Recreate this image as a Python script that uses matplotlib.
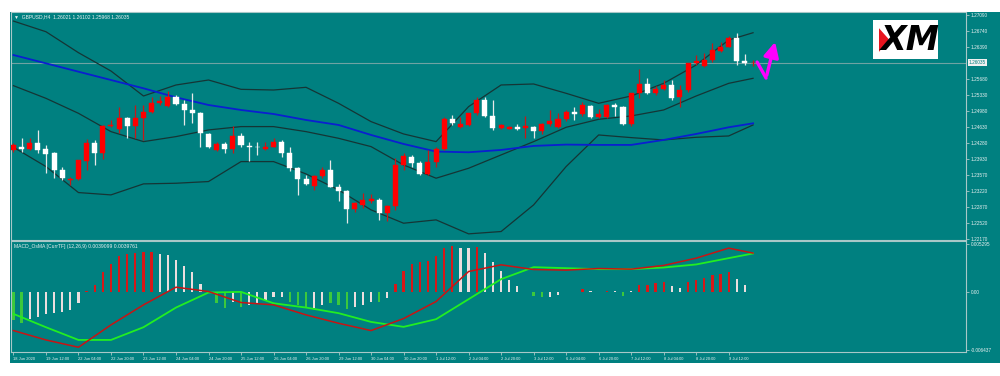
import matplotlib
matplotlib.use('Agg')
import matplotlib.pyplot as plt
import numpy as np
from matplotlib.patches import Rectangle, Polygon

plt.rcParams['font.family'] = ['Liberation Sans', 'DejaVu Sans']

# GBPUSD H4 candles
opens = [1.2413, 1.2419, 1.2414, 1.2427, 1.2414, 1.2405, 1.2369, 1.2346, 1.2349, 1.2389,
         1.2427, 1.2405, 1.2464, 1.2459, 1.2482, 1.2465, 1.2482, 1.2496, 1.2515, 1.2509,
         1.2528, 1.2513, 1.2500, 1.2494, 1.2448, 1.2413, 1.2426, 1.2414, 1.2443, 1.2421,
         1.2420, 1.2414, 1.2420, 1.2431, 1.2407, 1.2372, 1.2349, 1.2334, 1.2356, 1.2369,
         1.2332, 1.2323, 1.2284, 1.2292, 1.2301, 1.2303, 1.2274, 1.2289, 1.2380, 1.2397,
         1.2385, 1.2360, 1.2387, 1.2414, 1.2480, 1.2462, 1.2467, 1.2493, 1.2522, 1.2487,
         1.2460, 1.2459, 1.2463, 1.2460, 1.2462, 1.2455, 1.2469, 1.2462, 1.2480, 1.2496,
         1.2491, 1.2509, 1.2484, 1.2484, 1.2511, 1.2506, 1.2469, 1.2537, 1.2558, 1.2537,
         1.2547, 1.2555, 1.2528, 1.2544, 1.2602, 1.2596, 1.2609, 1.2630, 1.2639, 1.2658,
         1.2608, 1.26021]
highs = [1.2427, 1.2438, 1.2438, 1.2456, 1.2424, 1.2409, 1.2376, 1.2354, 1.2391, 1.2436,
         1.2435, 1.2467, 1.2478, 1.2507, 1.2485, 1.2511, 1.2511, 1.2528, 1.2531, 1.2542,
         1.2533, 1.2523, 1.2537, 1.2496, 1.2449, 1.2429, 1.2429, 1.2464, 1.2450, 1.2431,
         1.2431, 1.2429, 1.2438, 1.2435, 1.2420, 1.2376, 1.2358, 1.2358, 1.2375, 1.2391,
         1.2338, 1.2325, 1.2299, 1.2318, 1.2316, 1.2307, 1.2292, 1.2394, 1.2405, 1.2402,
         1.2389, 1.2413, 1.2420, 1.2484, 1.2489, 1.2484, 1.2493, 1.2528, 1.2528, 1.2521,
         1.2469, 1.2465, 1.2469, 1.2486, 1.2465, 1.2471, 1.2500, 1.2493, 1.2499, 1.2507,
         1.2518, 1.2511, 1.2502, 1.2513, 1.2515, 1.2509, 1.2538, 1.2589, 1.2571, 1.2552,
         1.2566, 1.2566, 1.2555, 1.2604, 1.2620, 1.2625, 1.2647, 1.2649, 1.2662, 1.2668,
         1.2622, 1.26102]
lows = [1.2409, 1.2409, 1.2413, 1.2407, 1.2362, 1.2351, 1.2347, 1.2336, 1.2347, 1.2369,
        1.2380, 1.2392, 1.2462, 1.2449, 1.2438, 1.2438, 1.2435, 1.2493, 1.2511, 1.2507,
        1.2511, 1.2467, 1.2471, 1.2418, 1.2416, 1.2411, 1.2405, 1.2407, 1.2419, 1.2389,
        1.2402, 1.2413, 1.2418, 1.2398, 1.2367, 1.2314, 1.2336, 1.2325, 1.2351, 1.2331,
        1.2300, 1.2252, 1.2276, 1.2285, 1.2297, 1.2259, 1.2258, 1.2281, 1.2369, 1.2376,
        1.2358, 1.2358, 1.2376, 1.2413, 1.2467, 1.2460, 1.2465, 1.2489, 1.2485, 1.2456,
        1.2459, 1.2458, 1.2456, 1.2438, 1.2438, 1.2448, 1.2464, 1.2460, 1.2477, 1.2478,
        1.2487, 1.2482, 1.2482, 1.2482, 1.2487, 1.2467, 1.2464, 1.2526, 1.2535, 1.2533,
        1.2544, 1.2523, 1.2507, 1.2540, 1.2599, 1.2595, 1.2606, 1.2628, 1.2637, 1.2599,
        1.2599, 1.25968]
closes = [1.2424, 1.2414, 1.2427, 1.2413, 1.2404, 1.2369, 1.2351, 1.2349, 1.2391, 1.2427,
          1.2405, 1.2464, 1.2467, 1.2482, 1.2465, 1.2483, 1.2496, 1.2515, 1.2520, 1.2528,
          1.2513, 1.2499, 1.2494, 1.2449, 1.2418, 1.2426, 1.2414, 1.2443, 1.2424, 1.2420,
          1.2419, 1.2420, 1.2431, 1.2407, 1.2372, 1.2349, 1.2338, 1.2356, 1.2369, 1.2332,
          1.2322, 1.2284, 1.2297, 1.2302, 1.2305, 1.2274, 1.2290, 1.2380, 1.2399, 1.2385,
          1.2360, 1.2387, 1.2414, 1.2480, 1.2472, 1.2470, 1.2493, 1.2522, 1.2487, 1.2460,
          1.2467, 1.2463, 1.2459, 1.2464, 1.2455, 1.2469, 1.2477, 1.2480, 1.2496, 1.2491,
          1.2511, 1.2484, 1.2491, 1.2512, 1.2506, 1.2469, 1.2537, 1.2558, 1.2537, 1.2547,
          1.2555, 1.2526, 1.2544, 1.2602, 1.2607, 1.2609, 1.2631, 1.2639, 1.2658, 1.2608,
          1.2602, 1.26035]

# indicator lines, sampled every 4 bars
line_bars = [0, 4, 8, 12, 16, 20, 24, 28, 32, 36, 40, 44, 48, 52, 56, 60, 64, 68, 72, 76, 80, 84, 88, 91]
bb_upper = [1.26947, 1.26714, 1.26255, 1.25854, 1.25307, 1.25548, 1.25657, 1.25453, 1.25438, 1.25497,
            1.25147, 1.24746, 1.24476, 1.24308, 1.25074, 1.25548, 1.25570, 1.25366, 1.25147, 1.25307,
            1.25584, 1.25985, 1.26532, 1.26692]
bb_mid = [1.25533, 1.25256, 1.24928, 1.24527, 1.24308, 1.24418, 1.24564, 1.24637, 1.24637, 1.24527,
          1.24381, 1.24199, 1.23798, 1.23507, 1.23725, 1.24017, 1.24308, 1.24622, 1.24797, 1.24870,
          1.25001, 1.25307, 1.25584, 1.25694]
bb_lower = [1.24185, 1.23762, 1.23193, 1.23142, 1.23383, 1.23397, 1.23434, 1.23871, 1.23871, 1.23601,
            1.23251, 1.22814, 1.22522, 1.22595, 1.22289, 1.22340, 1.22923, 1.23762, 1.24454, 1.24396,
            1.24345, 1.24403, 1.24432, 1.24673]
ma_blue = [1.26204, 1.26022, 1.25839, 1.25657, 1.25475, 1.25278, 1.25110, 1.25001, 1.24913, 1.24782,
           1.24673, 1.24454, 1.24257, 1.24090, 1.24075, 1.24126, 1.24214, 1.24243, 1.24236, 1.24236,
           1.24345, 1.24476, 1.24622, 1.24709]

# MACD_OsMA panel
hist = [-0.00315, -0.00344, -0.00307, -0.00278, -0.00248, -0.00241, -0.00222, -0.00204, -0.00122, 0.00007,
        0.00074, 0.00211, 0.00307, 0.00396, 0.00414, 0.00426, 0.00433, 0.00437, 0.00418, 0.00400,
        0.00352, 0.00285, 0.00211, 0.00085, -0.0002, -0.00122, -0.00178, -0.00115, -0.00167, -0.00152,
        -0.00137, -0.00093, -0.00063, -0.00056, -0.00111, -0.00148, -0.00174, -0.00178, -0.00148, -0.00130,
        -0.00148, -0.00192, -0.00167, -0.00148, -0.00111, -0.00111, -0.00074, 0.00085, 0.00222, 0.00307,
        0.00322, 0.00333, 0.00389, 0.00481, 0.00507, 0.00481, 0.00481, 0.00492, 0.00426, 0.00322,
        0.00222, 0.00130, 0.00063, -0.0001, -0.00048, -0.00063, -0.00056, -0.00041, -0.0001, -0.00005,
        0.00026, 0.00002, -0.0001, 0.0001, 0.00002, -0.00048, 0.0001, 0.00074, 0.00074, 0.00093,
        0.001, 0.00056, 0.00037, 0.001, 0.0013, 0.00155, 0.00178, 0.00192, 0.00211, 0.00144,
        0.0007, -0.0001]
hist_cols = ("ggwwwwwwwr" "rrrrrrrrww" "wwwwgggwgw" "wwwwgggwwg" "ggwwwgwrrr"
             "rrrrrwwrww" "wwwgggwwww" "rwgrwgwrrr" "rwwrrrrrrw" "wg")
macd_red = [-0.00433, -0.00537, -0.00618, -0.00370, -0.00148, 0.00048, 0.0, -0.00122, -0.00148, -0.00259,
            -0.00352, -0.00433, -0.00300, -0.00111, 0.00222, 0.00296, 0.00244, 0.00237, 0.00255, 0.00248,
            0.00289, 0.00370, 0.00481, 0.00426]
macd_green = [-0.00248, -0.00396, -0.00537, -0.00537, -0.00396, -0.00178, -0.00011, -0.00004, -0.0013, -0.00178,
              -0.0024, -0.00337, -0.00392, -0.00307, -0.00085, 0.00137, 0.0027, 0.00259, 0.00248, 0.00248,
              0.00266, 0.003, 0.0037, 0.00422]

price_ticks = [1.27090, 1.26740, 1.26390, 1.25680, 1.25330, 1.24980, 1.24630, 1.24280,
               1.23930, 1.23570, 1.23220, 1.22870, 1.22520, 1.22170]
last_price = 1.26035
date_labels = ['18 Jun 2020', '19 Jun 12:00', '22 Jun 04:00', '22 Jun 20:00', '23 Jun 12:00',
               '24 Jun 04:00', '24 Jun 20:00', '25 Jun 12:00', '26 Jun 04:00', '26 Jun 20:00',
               '29 Jun 12:00', '30 Jun 04:00', '30 Jun 20:00', '1 Jul 12:00', '2 Jul 04:00',
               '2 Jul 20:00', '3 Jul 12:00', '6 Jul 04:00', '6 Jul 20:00', '7 Jul 12:00',
               '8 Jul 04:00', '8 Jul 20:00', '9 Jul 12:00']
# forecast arrow (bar, price)
arrow_x = [91.5, 92.6, 93.8]
arrow_y = [1.2605, 1.2570, 1.2655]

TEAL = '#008080'
FRAME = '#a8c8c8'
TXT = '#e8f0f0'

fig = plt.figure(figsize=(10, 3.76), dpi=100)
fig.patch.set_facecolor('white')
fig.patches.append(Rectangle((0.01, 0.034), 0.99, 0.934, transform=fig.transFigure,
                             facecolor=TEAL, edgecolor='none', zorder=-5))

ax = fig.add_axes([0.011, 0.362, 0.955, 0.606])
ax2 = fig.add_axes([0.011, 0.064, 0.955, 0.295], sharex=ax)
for a in (ax, ax2):
    a.set_facecolor(TEAL)
    for s in a.spines.values():
        s.set_color(FRAME)
        s.set_linewidth(0.8)

x = np.arange(len(opens))
o = np.array(opens); c = np.array(closes); h = np.array(highs); l = np.array(lows)
up = c >= o
body_lo = np.minimum(o, c)
body_h = np.maximum(np.abs(c - o), 0.00006)

# price line
ax.axhline(last_price, color='#6fa3a3', lw=0.8, zorder=1)

ax.vlines(x[up], l[up], h[up], color='#c81818', lw=0.9, zorder=3)
ax.vlines(x[~up], l[~up], h[~up], color='#e8e8e8', lw=0.9, zorder=3)
ax.bar(x[up], body_h[up], 0.62, bottom=body_lo[up], color='#ff0000', edgecolor='#ff0000', lw=0.3, zorder=4)
ax.bar(x[~up], body_h[~up], 0.62, bottom=body_lo[~up], color='white', edgecolor='white', lw=0.3, zorder=4)

for band in (bb_upper, bb_mid, bb_lower):
    ax.plot(line_bars, band, color='#153535', lw=0.9, zorder=2)
ax.plot(line_bars, ma_blue, color='#0a1fd0', lw=1.3, zorder=2)

ax.plot(arrow_x[:2], arrow_y[:2], color='#ff00ff', lw=2.4, zorder=6, solid_capstyle='round')
ax.annotate('', xy=(arrow_x[2], arrow_y[2]), xytext=(arrow_x[1], arrow_y[1]),
            arrowprops=dict(arrowstyle='-|>,head_length=0.9,head_width=0.45', color='#ff00ff', lw=2.4),
            zorder=6, annotation_clip=False)

ax.set_xlim(-0.3, 117.2)
ax.set_ylim(1.22157, 1.27145)
ax.yaxis.tick_right()
ax.set_yticks(price_ticks)
ax.set_yticklabels(['%.5f' % p for p in price_ticks])
ax.tick_params(axis='y', colors=FRAME, labelcolor=TXT, labelsize=3.4, length=2, width=0.6, pad=1.5)
ax.tick_params(axis='x', bottom=False, labelbottom=False)
ax.text(1.003, (last_price - 1.22157) / (1.27145 - 1.22157), '%.5f' % last_price, transform=ax.transAxes,
        fontsize=3.4, color=TEAL, va='center', ha='left',
        bbox=dict(boxstyle='square,pad=0.2', facecolor='#f0f0f0', edgecolor='none'))

ax.text(0.003, 0.988, '\u25bc  GBPUSD,H4  1.26021 1.26102 1.25968 1.26035', transform=ax.transAxes,
        fontsize=3.6, color=TXT, va='top', ha='left')

# MACD panel
cmap = {'r': '#d81818', 'w': '#ecdede', 'g': '#3cc83c'}
ax2.bar(x, hist, 0.28, color=[cmap[k] for k in hist_cols], zorder=2)
ax2.plot(line_bars, macd_green, color='#22ee22', lw=1.3, zorder=3)
ax2.plot(line_bars, macd_red, color='#c81414', lw=1.1, zorder=3)
ax2.set_ylim(-0.0067, 0.0056)
ax2.yaxis.tick_right()
ax2.set_yticks([0.005295, 0.0, -0.006437])
ax2.set_yticklabels(['0.005295', '0.00', '-0.006437'])
ax2.tick_params(axis='y', colors=FRAME, labelcolor=TXT, labelsize=3.4, length=2, width=0.6, pad=1.5)
ax2.text(0.003, 0.975, 'MACD_OsMA [CurrTF] (12,26,9) 0.0039099 0.0039761', transform=ax2.transAxes,
         fontsize=3.6, color=TXT, va='top', ha='left')

ax2.set_xticks(np.arange(0, 4 * len(date_labels), 4))
ax2.set_xticklabels(date_labels, ha='left')
ax2.tick_params(axis='x', colors=FRAME, labelcolor=TXT, labelsize=2.9, length=2, width=0.6, pad=1.5)

# XM logo
fig.patches.append(Rectangle((0.873, 0.843), 0.065, 0.104, transform=fig.transFigure,
                             facecolor='white', edgecolor='none', zorder=5))
fig.patches.append(Polygon([[0.879, 0.925], [0.889, 0.895], [0.879, 0.862]], closed=True,
                           transform=fig.transFigure, facecolor='#e8141e', edgecolor='none', zorder=6))
fig.text(0.910, 0.893, 'XM', fontsize=24, fontweight='heavy', fontstyle='italic', color='black',
         family='DejaVu Sans', ha='center', va='center', zorder=7)

fig.savefig('out.png', dpi=100, facecolor='white')
